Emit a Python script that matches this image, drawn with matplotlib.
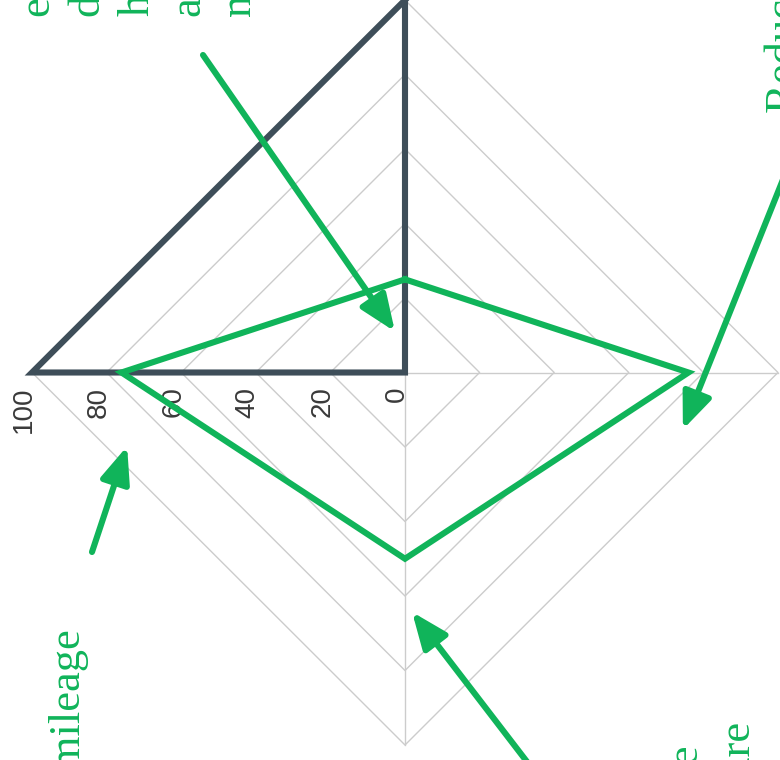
import numpy as np
import matplotlib
matplotlib.use("Agg")
import matplotlib.pyplot as plt
from matplotlib.transforms import ScaledTranslation

W, H, DPI = 780, 760, 100

# radar spokes, counter-clockwise from 12 o'clock
n_spokes = 4
baseline_series = [100, 100, 0, 0]
target_series = [25, 76, 50, 76]
rings = [20, 40, 60, 80, 100]
tick_values = [0, 20, 40, 60, 80, 100]
tick_labels = ["0", "20", "40", "60", "80", "100"]
r_max = 100

# callout text blocks (one entry per vertical line)
top_lines = ["emissions", "driving", "health", "and", "noise"]
right_text = "Reduce running costs"
left_text = "Better mileage"
bottom_lines = ["Cheaper to operate", "and to insure"]

# arrow targets in data units (x, y) on the radar plane
arrow_tips = [(-2.7, 11.0), (74.5, -15.3), (-74.5, -19.8), (1.9, -64.3)]

SLATE = "#3e4e59"
GREEN = "#10b45a"
GRID = "#cccccc"
TICK = "#3a3a3a"
SERIF = "Liberation Serif"

angles = np.pi / 2 + np.arange(n_spokes) * 2 * np.pi / n_spokes


def to_xy(values):
    v = np.asarray(values, float)
    return v * np.cos(angles), v * np.sin(angles)


def closed(x, y):
    return np.append(x, x[0]), np.append(y, y[0])


def px(x, y):
    """pixel position (from top-left) -> figure fraction"""
    return x / W, 1 - y / H


fig = plt.figure(figsize=(W / DPI, H / DPI), dpi=DPI)
ax = fig.add_axes([32 / W, 15 / H, 746 / W, 745 / H])
ax.set_xlim(-r_max, r_max)
ax.set_ylim(-r_max, r_max)
ax.axis("off")

# diamond grid and spokes
for r in rings:
    ax.plot(*closed(*to_xy([r] * n_spokes)), color=GRID, lw=1.0,
            clip_on=False, zorder=1)
for a in angles:
    ax.plot([0, r_max * np.cos(a)], [0, r_max * np.sin(a)], color=GRID,
            lw=1.0, clip_on=False, zorder=1)

# radial tick labels along the left spoke, just below it
shift = ax.transData + ScaledTranslation(-8 / DPI, -14 / DPI, fig.dpi_scale_trans)
for v, lab in zip(tick_values, tick_labels):
    ax.text(-v, 0, lab, transform=shift, rotation=90, ha="center", va="top",
            fontsize=20, family="Liberation Sans", color=TICK, clip_on=False)

# series outlines
for vals, col, z in [(baseline_series, SLATE, 3), (target_series, GREEN, 4)]:
    ax.plot(*closed(*to_xy(vals)), color=col, lw=4.4,
            solid_joinstyle="miter", clip_on=False, zorder=z)

# callout arrows
arrow_tails = [px(203, 55), px(786, 172), px(92, 552), px(531, 767)]
for tip, tail in zip(arrow_tips, arrow_tails):
    ax.annotate("", xy=tip, xycoords="data", xytext=tail,
                textcoords="figure fraction",
                arrowprops=dict(arrowstyle="-|>,head_length=1.1,head_width=0.45",
                                mutation_scale=20, lw=4.4, color=GREEN,
                                shrinkA=0, shrinkB=0),
                annotation_clip=False, zorder=5)

# callout texts (vertical, reading upward)
txt = dict(rotation=90, rotation_mode="anchor", fontsize=32, family=SERIF,
           color=GREEN, va="baseline")
for i, line in enumerate(top_lines):
    fig.text(*px(48 + 50.5 * i, 16), line, ha="left", **txt)
fig.text(*px(796, 113), right_text, ha="left", **txt)
fig.text(*px(80, 629), left_text, ha="right", **txt)
fig.text(*px(698, 746), bottom_lines[0], ha="right", **txt)
fig.text(*px(750, 722), bottom_lines[1], ha="right", **txt)

fig.savefig("out.png", dpi=DPI)
